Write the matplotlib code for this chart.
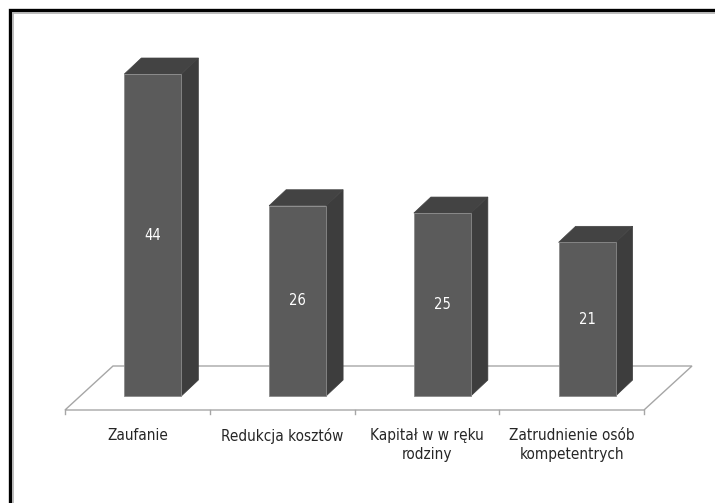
import numpy as np
import matplotlib.pyplot as plt
from matplotlib.patches import Polygon
from matplotlib.font_manager import fontManager

# Survey answers and their percentages
categories = ['Zaufanie', 'Redukcja kosztów', 'Kapitał w w ręku\nrodziny',
              'Zatrudnienie osób\nkompetentrych']
values = [44, 26, 25, 21]

names = {f.name for f in fontManager.ttflist}
if 'Liberation Sans Narrow' in names:
    plt.rcParams['font.family'] = ['Liberation Sans Narrow', 'DejaVu Sans']
    stretch = 'normal'
else:
    plt.rcParams['font.family'] = ['DejaVu Sans']
    stretch = 'condensed'

W, H = 715, 503
fig = plt.figure(figsize=(W / 100, H / 100), dpi=100)
ax = fig.add_axes([0, 0, 1, 1])

# one category = 144.75 px, one percent = 7.318 px
px_x, px_y = 144.75, 7.318
x_org, y_org = 65, 396
ax.set_xlim(-x_org / px_x, (W - x_org) / px_x)
ax.set_ylim((y_org - H) / px_y, y_org / px_y)
ax.axis('off')

front_c, side_c, top_c = '#5b5b5b', '#3d3d3d', '#434343'
edge_c = '#8a8a8a'
grid_c = '#a6a6a6'

n = len(values)
dx = 17 / px_x
dy = 16 / px_y
bar_w = 57 / px_x
bar_off = 0.41

# floor (outline only)
f_front = -14 / px_y
f_back = 30 / px_y
f_shift = 48 / px_x
floor = Polygon([(0, f_front), (n, f_front), (n + f_shift, f_back), (f_shift, f_back)],
                closed=True, facecolor='white', edgecolor=grid_c, lw=1.0, zorder=1)
ax.add_patch(floor)
for i in range(n + 1):
    ax.plot([i, i], [f_front, f_front - 4 / px_y], color=grid_c, lw=1.0, zorder=1)

# 3d bars
for i, v in enumerate(values):
    x0 = i + bar_off
    x1 = x0 + bar_w
    side = Polygon([(x1, 0), (x1, v), (x1 + dx, v + dy), (x1 + dx, dy)],
                   closed=True, facecolor=side_c, edgecolor=side_c, lw=0.5, zorder=3)
    top = Polygon([(x0, v), (x1, v), (x1 + dx, v + dy), (x0 + dx, v + dy)],
                  closed=True, facecolor=top_c, edgecolor=top_c, lw=0.5, zorder=3)
    front = Polygon([(x0, 0), (x1, 0), (x1, v), (x0, v)],
                    closed=True, facecolor=front_c, edgecolor=edge_c, lw=0.6, zorder=4)
    ax.add_patch(side)
    ax.add_patch(top)
    ax.add_patch(front)
    ax.text(x0 + bar_w / 2, v / 2, str(v), color='white', fontsize=10.5,
            fontstretch=stretch, ha='center', va='center', zorder=5)

# category labels
for i, lab in enumerate(categories):
    ax.text(i + 0.5, f_front - 18 / px_y, lab, color='#262626', fontsize=11,
            fontstretch=stretch, ha='center', va='top', linespacing=1.3)

# frame on the top and left edges
ax.plot([10 / W, 10 / W, 1], [0, 1 - 10 / H, 1 - 10 / H], transform=ax.transAxes,
        color='black', lw=2.4, solid_joinstyle='miter', clip_on=False)
ax.plot([12.5 / W, 12.5 / W, 1], [0, 1 - 12.5 / H, 1 - 12.5 / H], transform=ax.transAxes,
        color='#b0b0b0', lw=1.2, clip_on=False)

fig.savefig('out.png', dpi=100)
